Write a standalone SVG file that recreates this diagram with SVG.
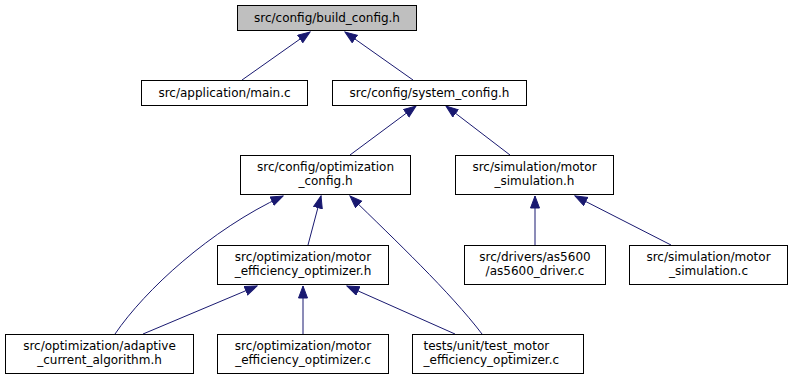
<svg xmlns="http://www.w3.org/2000/svg" width="793" height="380" viewBox="0 0 793 380">
  <style>
    .node rect { fill: #ffffff; stroke: #000000; stroke-width: 1; }
    .node.root rect { fill: #bfbfbf; }
    .node text { font-family: "DejaVu Sans", sans-serif; font-size: 12px; text-anchor: middle; fill: #000000; }
    .node text.left { text-anchor: start; }
    .edges path { fill: none; stroke: #191970; stroke-width: 1; marker-end: url(#arr); }
  </style>
  <defs>
    <marker id="arr" markerUnits="userSpaceOnUse" markerWidth="14" markerHeight="11" refX="12.5" refY="5" orient="auto">
      <path d="M0.5,0.5 L12.5,5 L0.5,9.5 z" fill="#191970" stroke="#191970" stroke-width="1"/>
    </marker>
  </defs>
  <rect width="793" height="380" fill="#ffffff"/>

  <!-- include dependency edges -->
  <g id="edges" class="edges">
    <path d="M242,80 L310,32"/>
    <path d="M413,80 L345,32"/>
    <path d="M350,155 L416,106"/>
    <path d="M510,155 L446,106"/>
    <path d="M115,334 C145,290 210,230 283,196"/>
    <path d="M308,245 L321,196"/>
    <path d="M482,334 C450,292 395,240 350,196"/>
    <path d="M143,334 L257,286"/>
    <path d="M303,334 L303,286"/>
    <path d="M455,334 L347,286"/>
    <path d="M535,245 L535,196"/>
    <path d="M671,245 L575,196"/>
  </g>

  <g id="build_config" class="node root">
    <rect x="237.5" y="5.5" width="179" height="25"/>
    <text x="327" y="22">src/config/build_config.h</text>
  </g>
  <g id="main_c" class="node">
    <rect x="141.5" y="80.5" width="166" height="25"/>
    <text x="224.5" y="97">src/application/main.c</text>
  </g>
  <g id="system_config" class="node">
    <rect x="332.5" y="80.5" width="194" height="25"/>
    <text x="429.5" y="97">src/config/system_config.h</text>
  </g>
  <g id="optimization_config" class="node">
    <rect x="240.5" y="155.5" width="170" height="39"/>
    <text x="325.5" y="171">src/config/optimization</text>
    <text x="325.5" y="185">_config.h</text>
  </g>
  <g id="motor_simulation_h" class="node">
    <rect x="455.5" y="155.5" width="158" height="39"/>
    <text x="534.5" y="171">src/simulation/motor</text>
    <text x="534.5" y="185">_simulation.h</text>
  </g>
  <g id="motor_efficiency_optimizer_h" class="node">
    <rect x="217.5" y="245.5" width="171" height="39"/>
    <text x="303" y="261">src/optimization/motor</text>
    <text x="303" y="275">_efficiency_optimizer.h</text>
  </g>
  <g id="as5600_driver" class="node">
    <rect x="464.5" y="245.5" width="141" height="39"/>
    <text x="535" y="261">src/drivers/as5600</text>
    <text x="535" y="275">/as5600_driver.c</text>
  </g>
  <g id="motor_simulation_c" class="node">
    <rect x="629.5" y="245.5" width="158" height="39"/>
    <text x="708.5" y="261">src/simulation/motor</text>
    <text x="708.5" y="275">_simulation.c</text>
  </g>
  <g id="adaptive_current_algorithm" class="node">
    <rect x="5.5" y="334.5" width="188" height="39"/>
    <text x="99.5" y="350">src/optimization/adaptive</text>
    <text x="99.5" y="364">_current_algorithm.h</text>
  </g>
  <g id="motor_efficiency_optimizer_c" class="node">
    <rect x="217.5" y="334.5" width="171" height="39"/>
    <text x="303" y="350">src/optimization/motor</text>
    <text x="303" y="364">_efficiency_optimizer.c</text>
  </g>
  <g id="test_motor_efficiency_optimizer" class="node">
    <rect x="412.5" y="334.5" width="171" height="39"/>
    <text class="left" x="423.5" y="350">tests/unit/test_motor</text>
    <text class="left" x="423.5" y="364">_efficiency_optimizer.c</text>
  </g>
</svg>
